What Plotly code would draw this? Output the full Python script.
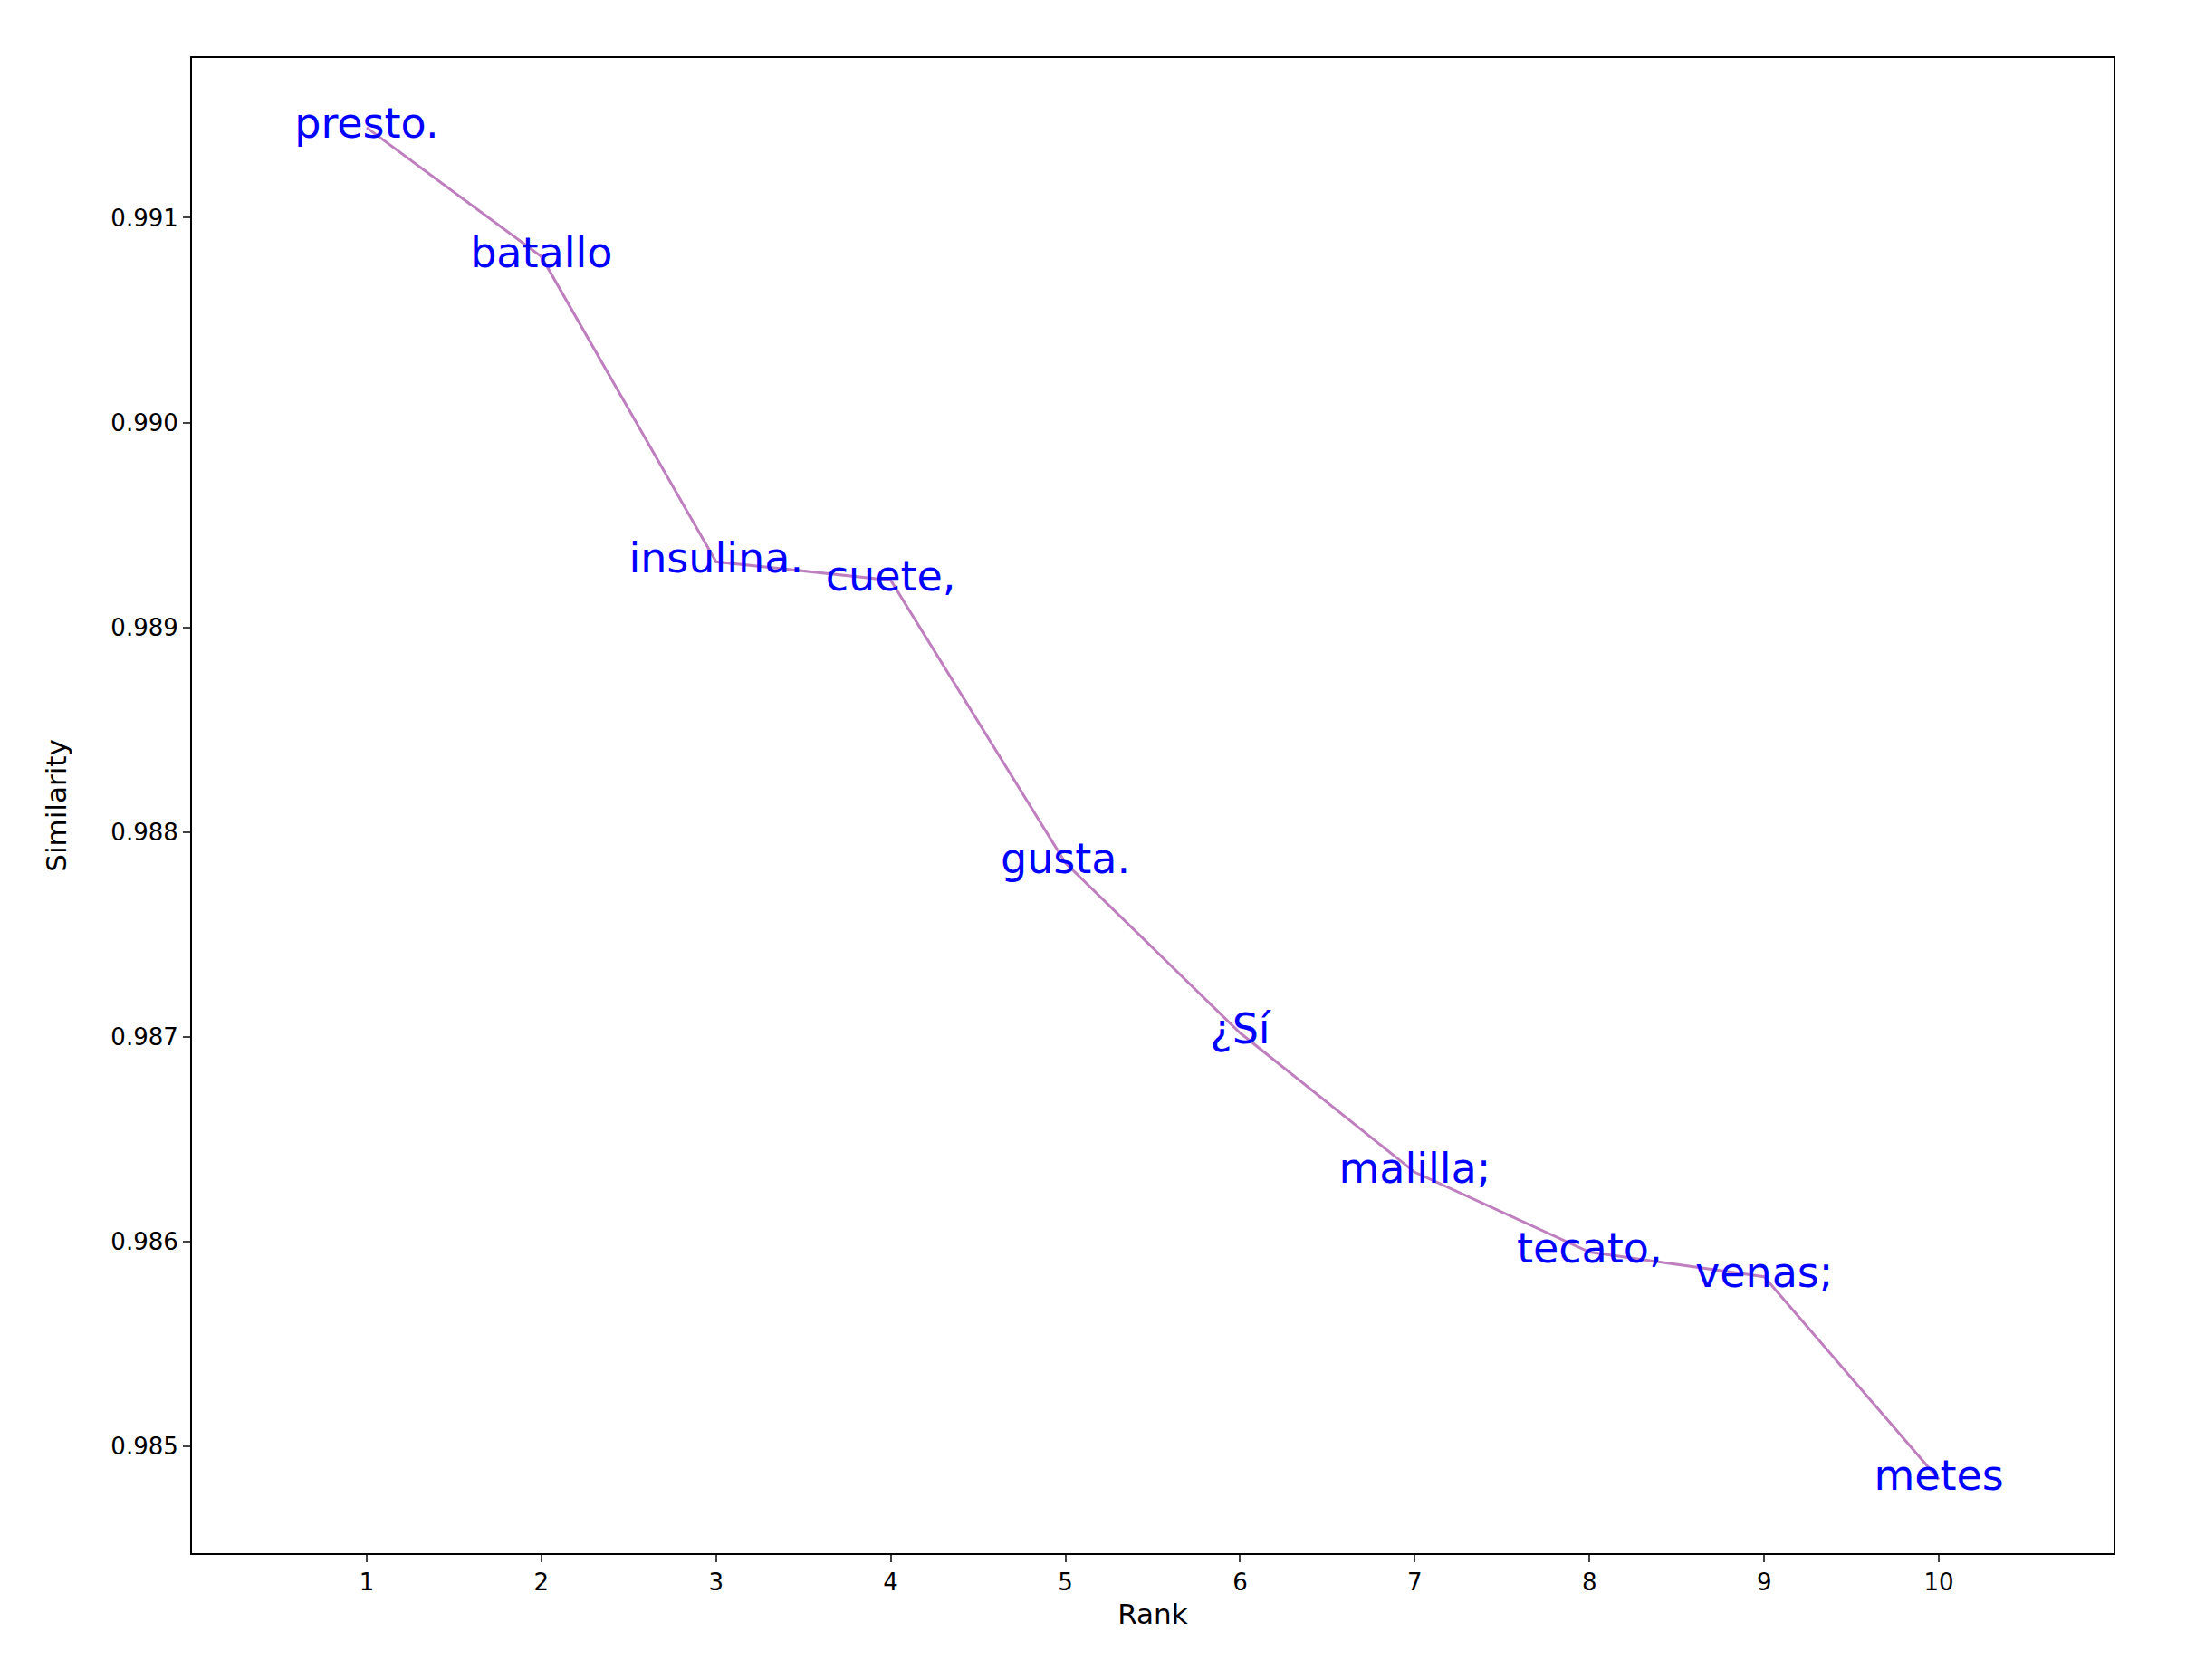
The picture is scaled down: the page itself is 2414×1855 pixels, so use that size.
import plotly.graph_objects as go

ranks = [1, 2, 3, 4, 5, 6, 7, 8, 9, 10]
similarity = [0.99144, 0.99081, 0.98932, 0.98923, 0.98785, 0.98702, 0.98634, 0.98595, 0.98583, 0.98484]
words = ["presto.", "batallo", "insulina.", "cuete,", "gusta.", "¿Sí", "malilla;", "tecato,", "venas;", "metes"]
yticks = [0.985, 0.986, 0.987, 0.988, 0.989, 0.990, 0.991]

fig = go.Figure()
fig.add_trace(go.Scatter(x=ranks, y=similarity, mode="lines",
                         line=dict(color="rgba(128,0,128,0.5)", width=3), showlegend=False))
fig.add_trace(go.Scatter(x=ranks, y=similarity, mode="text", text=words,
                         textposition="middle center",
                         textfont=dict(color="blue", size=46, family="DejaVu Sans"),
                         showlegend=False))
fig.update_layout(
    width=2414, height=1855, paper_bgcolor="white", plot_bgcolor="white",
    margin=dict(l=204, r=88, t=56, b=148),
    font=dict(family="DejaVu Sans", size=26, color="black"),
)
fig.update_xaxes(range=[0.0, 11.0], tickvals=ranks, showgrid=False, zeroline=False,
                 showline=True, mirror=True, linecolor="black", linewidth=2,
                 ticks="outside", ticklen=8, tickwidth=2,
                 title=dict(text="Rank", standoff=10))
fig.update_yaxes(range=[0.98448, 0.99178], tickvals=yticks, tickformat=".3f",
                 showgrid=False, zeroline=False,
                 showline=True, mirror=True, linecolor="black", linewidth=2,
                 ticks="outside", ticklen=8, tickwidth=2,
                 title=dict(text="Similarity", standoff=40))
fig.write_html("out.html")
